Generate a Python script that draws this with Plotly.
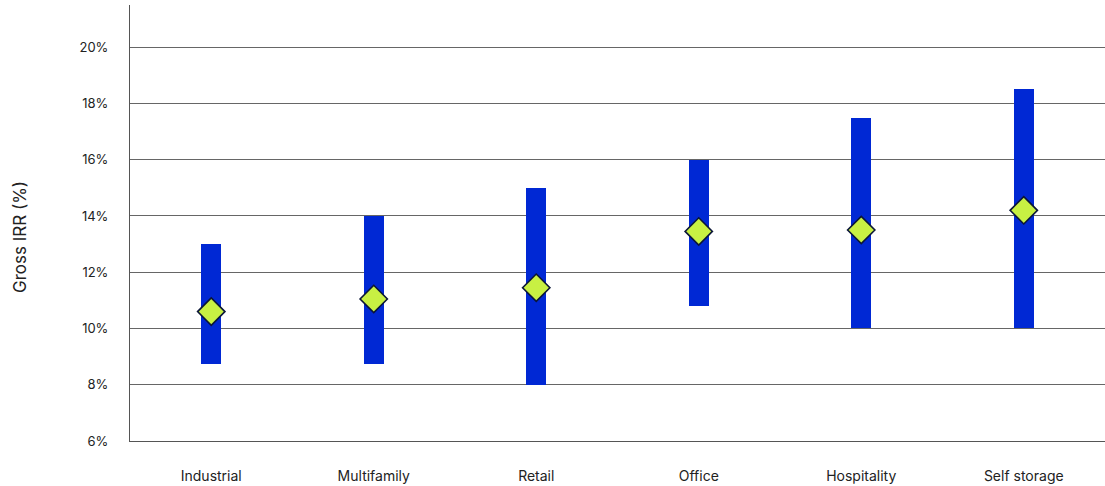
import plotly.graph_objects as go

sectors = ["Industrial", "Multifamily", "Retail", "Office", "Hospitality", "Self storage"]
irr_low = [8.75, 8.75, 8.0, 10.8, 10.0, 10.0]
irr_high = [13.0, 14.0, 15.0, 16.0, 17.5, 18.5]
irr_mid = [10.6, 11.05, 11.45, 13.45, 13.5, 14.2]
y_ticks = [6, 8, 10, 12, 14, 16, 18, 20]
y_tick_labels = [f"{v}%" for v in y_ticks]

fig = go.Figure()

# Range bars: low to high gross IRR per sector
fig.add_trace(go.Bar(
    x=sectors,
    base=irr_low,
    y=[h - l for h, l in zip(irr_high, irr_low)],
    width=0.123,
    marker=dict(color="#0028d4", line=dict(width=0)),
    hoverinfo="skip",
    showlegend=False,
))

# Midpoint markers
fig.add_trace(go.Scatter(
    x=sectors,
    y=irr_mid,
    mode="markers",
    marker=dict(symbol="diamond", size=21, color="#c8f043",
                line=dict(color="#0b1638", width=1.6)),
    showlegend=False,
))

fig.update_layout(
    width=1105,
    height=486,
    margin=dict(l=130, r=0, t=5, b=45),
    paper_bgcolor="white",
    plot_bgcolor="white",
    font=dict(family="Inter, Roboto, sans-serif", color="#222222", size=13),
    bargap=0,
)

# Vertical y-axis title, set slightly below the plot's middle
fig.add_annotation(
    text="Gross IRR (%)",
    xref="paper", yref="paper",
    x=-0.1128, y=0.468,
    xanchor="center", yanchor="middle",
    textangle=-90,
    showarrow=False,
    font=dict(size=17, color="#222222"),
)

fig.update_xaxes(
    showgrid=False,
    showline=True,
    linecolor="#555555",
    linewidth=1,
    ticks="",
    ticklabelstandoff=22,
    tickfont=dict(size=14),
)

fig.update_yaxes(
    range=[6, 21.5],
    tickvals=y_ticks,
    ticktext=y_tick_labels,
    showgrid=True,
    gridcolor="#666666",
    gridwidth=1,
    showline=True,
    linecolor="#555555",
    linewidth=1,
    zeroline=False,
    ticks="",
    ticklabelstandoff=18,
    tickfont=dict(size=13),
)

fig.write_html("out.html")
